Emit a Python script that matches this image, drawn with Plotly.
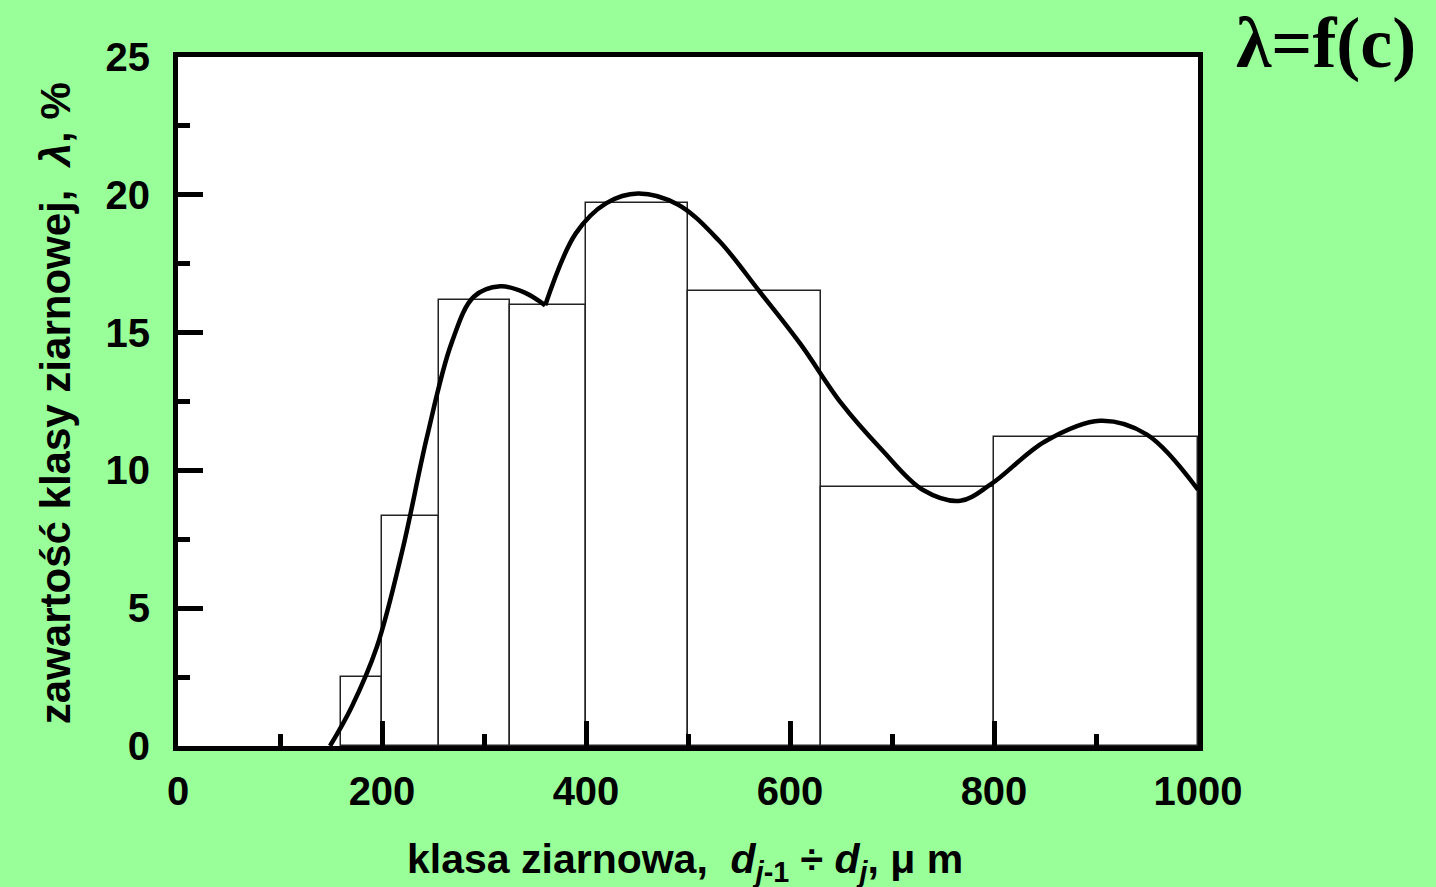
import plotly.graph_objects as go

# Histogram class edges (µm) and class contents (%)
edges = [160, 200, 256, 325, 400, 500, 630, 800, 1000]
content = [2.5, 8.36, 16.17, 16.0, 19.7, 16.5, 9.4, 11.2]

# Smoothed curve, two branches meeting at a cusp
curve1_x = [149, 170, 195, 220, 244, 268, 290, 316, 340, 360]
curve1_y = [0.0, 1.4, 3.6, 7.1, 11.2, 14.6, 16.3, 16.68, 16.45, 15.99]
curve2_x = [360, 390, 420, 451, 490, 530, 570, 610, 650, 690, 730, 767, 797, 850, 904, 950, 1000]
curve2_y = [15.99, 18.6, 19.7, 20.05, 19.65, 18.35, 16.5, 14.6, 12.45, 10.75, 9.3, 8.9, 9.5, 11.05, 11.8, 11.3, 9.3]

x_ticks = [0, 200, 400, 600, 800, 1000]
y_ticks = [0, 5, 10, 15, 20, 25]

centers = [(a + b) / 2 for a, b in zip(edges[:-1], edges[1:])]
widths = [b - a for a, b in zip(edges[:-1], edges[1:])]

GREEN = "#99FF99"
SANS = "Liberation Sans, Arial, sans-serif"

fig = go.Figure()
fig.add_trace(go.Bar(x=centers, y=content, width=widths, base=0,
                     marker=dict(color="white", line=dict(color="#222222", width=1.5)),
                     showlegend=False, hoverinfo="skip"))
fig.add_trace(go.Scatter(x=curve1_x, y=curve1_y, mode="lines",
                         line=dict(color="black", width=4.5, shape="spline"), showlegend=False))
fig.add_trace(go.Scatter(x=curve2_x, y=curve2_y, mode="lines",
                         line=dict(color="black", width=4.5, shape="spline"), showlegend=False))

axis_common = dict(showline=True, linecolor="black", linewidth=5, mirror=True,
                   ticks="inside", tickcolor="black", tickwidth=5, ticklen=25,
                   showgrid=False, zeroline=False,
                   tickfont=dict(family=SANS, size=40, color="black", weight="bold"))

fig.update_layout(
    width=1436, height=887,
    paper_bgcolor=GREEN, plot_bgcolor="white",
    margin=dict(l=178, r=238, t=57, b=141),
    bargap=0,
    xaxis=dict(range=[0, 1000], tickvals=x_ticks,
               minor=dict(ticks="inside", dtick=100, tick0=0, ticklen=12, tickwidth=5, tickcolor="black"),
               ticklabelstandoff=6,
               **axis_common),
    yaxis=dict(range=[0, 25], tickvals=y_ticks,
               minor=dict(ticks="inside", dtick=2.5, tick0=0, ticklen=12, tickwidth=5, tickcolor="black"),
               ticklabelstandoff=15,
               **axis_common),
    annotations=[
        dict(text="klasa ziarnowa,  <i>d<sub>j</sub></i><sub>-1</sub> ÷ <i>d<sub>j</sub></i>, μ m",
             xref="paper", yref="paper", x=0.497, y=-0.168, xanchor="center", yanchor="middle",
             showarrow=False, font=dict(family=SANS, size=41, color="black", weight="bold")),
        dict(text="zawartość klasy ziarnowej,  <i>λ</i>, %",
             xref="paper", yref="paper", x=-0.12, y=0.497, xanchor="center", yanchor="middle",
             textangle=-90, showarrow=False,
             font=dict(family=SANS, size=42, color="black", weight="bold")),
        dict(text="λ=f(c)", xref="paper", yref="paper", x=1.125, y=1.0203,
             xanchor="center", yanchor="middle", showarrow=False,
             font=dict(family="Liberation Serif, Times New Roman, serif", size=72,
                       color="black", weight="bold")),
    ],
)

fig.write_html("out.html")
